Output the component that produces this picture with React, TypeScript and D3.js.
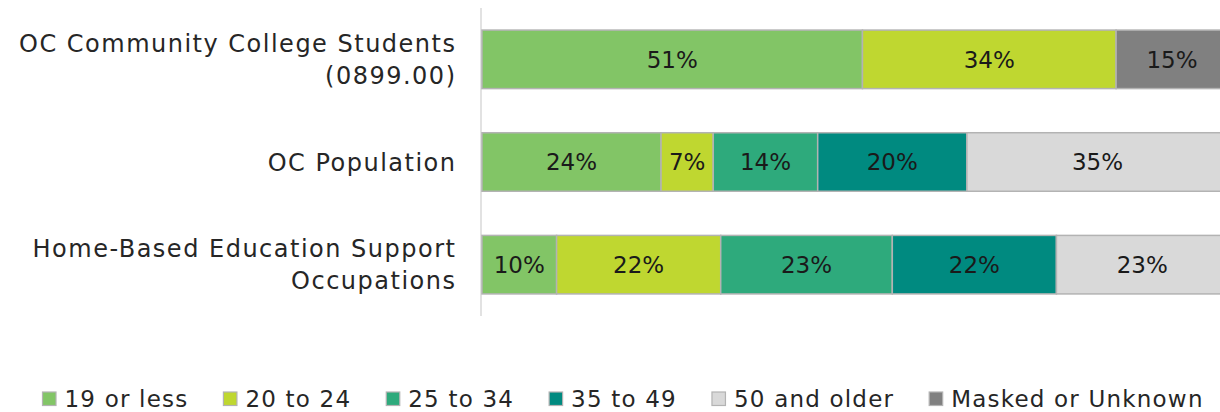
import React from "react";
import * as d3 from "d3";

const categories = [
  "OC Community College Students (0899.00)",
  "OC Population",
  "Home-Based Education Support Occupations",
];
const categoryLines = [
  ["OC Community College Students", "(0899.00)"],
  ["OC Population"],
  ["Home-Based Education Support", "Occupations"],
];
const seriesNames = [
  "19 or less",
  "20 to 24",
  "25 to 34",
  "35 to 49",
  "50 and older",
  "Masked or Unknown",
];
const age19OrLess = [51, 24, 10];
const age20to24 = [34, 7, 22];
const age25to34 = [0, 14, 23];
const age35to49 = [0, 20, 22];
const age50Older = [0, 35, 23];
const maskedUnknown = [15, 0, 0];
const seriesColors = ["#82c566", "#bfd730", "#2eaa7c", "#008a80", "#d9d9d9", "#808080"];

const W = 1220;
const H = 412;
const FONT = "'DejaVu Sans', sans-serif";

function measure(text: string, size: number, spacing: number): number {
  if (typeof document === "undefined") return text.length * size * 0.6;
  const c = document.createElement("canvas");
  const ctx = c.getContext("2d")!;
  ctx.font = `${size}px ${FONT}`;
  return ctx.measureText(text).width + spacing * text.length;
}

export default function App() {
  const valuesBySeries = [age19OrLess, age20to24, age25to34, age35to49, age50Older, maskedUnknown];
  const table = categories.map((c, i) => {
    const row: any = { category: c };
    seriesNames.forEach((s, j) => (row[s] = valuesBySeries[j][i]));
    return row;
  });
  const stacked = d3.stack<any>().keys(seriesNames)(table);

  const x = d3.scaleLinear().domain([0, 100]).range([482, 1228]);
  const y = d3
    .scaleBand<string>()
    .domain(categories)
    .range([8, 316])
    .paddingInner(0.43)
    .paddingOuter(0.215);

  const labelSize = 23;
  const catSize = 24;
  const catSpacing = 1.5;
  const legendSize = 23;
  const legendSpacing = 1.2;

  let lx = 42.5;
  const legendItems = seriesNames.map((s, i) => {
    const item = { name: s, color: seriesColors[i], x: lx };
    lx += 14 + 8 + measure(s, legendSize, legendSpacing) + 35;
    return item;
  });

  return (
    <svg
      width={W}
      height={H}
      style={{ position: "absolute", left: 0, top: 0, background: "#fff" }}
      fontFamily={FONT}
    >
      <line x1={481} x2={481} y1={8} y2={316} stroke="#d9d9d9" strokeWidth={1.5} />
      {stacked.map((layer, si) => (
        <g key={layer.key}>
          {layer.map((d, ci) => {
            const w = x(d[1]) - x(d[0]);
            if (w <= 0) return null;
            const yy = y(categories[ci])!;
            return (
              <g key={ci}>
                <rect
                  x={x(d[0])}
                  y={yy}
                  width={w}
                  height={y.bandwidth()}
                  fill={seriesColors[si]}
                  stroke="#b3b3b3"
                  strokeWidth={1.5}
                />
                <text
                  x={(x(d[0]) + x(d[1])) / 2}
                  y={yy + y.bandwidth() / 2}
                  dy="0.36em"
                  textAnchor="middle"
                  fontSize={labelSize}
                  fill="#1a1a1a"
                >
                  {`${d[1] - d[0]}%`}
                </text>
              </g>
            );
          })}
        </g>
      ))}
      {categories.map((c, i) => {
        const lines = categoryLines[i];
        const cy = y(c)! + y.bandwidth() / 2;
        const lh = 32;
        return (
          <text
            key={c}
            textAnchor="end"
            fontSize={catSize}
            fill="#262626"
            style={{ letterSpacing: `${catSpacing}px` }}
          >
            {lines.map((l, k) => (
              <tspan
                key={k}
                x={455 + catSpacing}
                y={cy + (k - (lines.length - 1) / 2) * lh}
                dy="0.36em"
              >
                {l}
              </tspan>
            ))}
          </text>
        );
      })}
      {legendItems.map((it) => (
        <g key={it.name}>
          <rect x={it.x} y={392} width={13.5} height={13.5} fill={it.color} stroke="#b3b3b3" strokeWidth={1.2} />
          <text
            x={it.x + 22}
            y={399}
            dy="0.36em"
            fontSize={legendSize}
            fill="#262626"
            style={{ letterSpacing: `${legendSpacing}px` }}
          >
            {it.name}
          </text>
        </g>
      ))}
    </svg>
  );
}
